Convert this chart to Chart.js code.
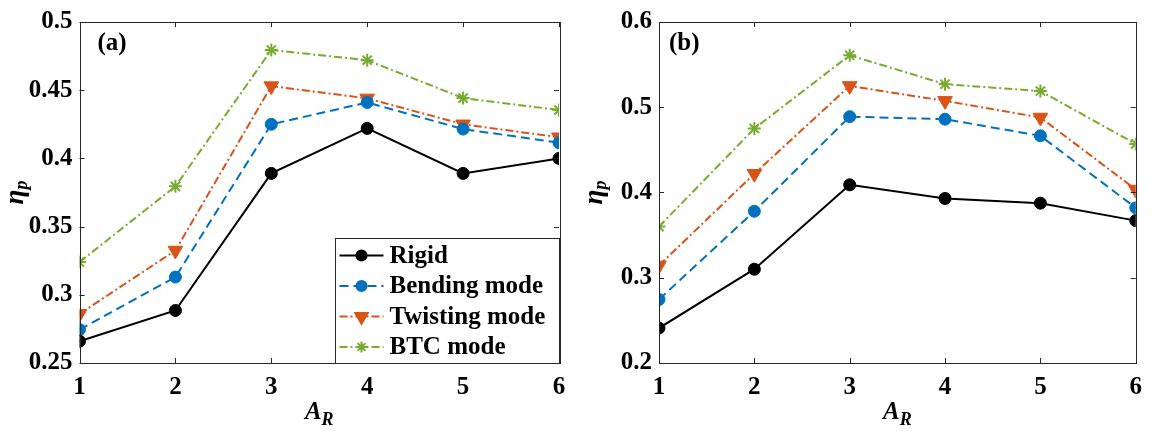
<!DOCTYPE html>
<html>
<head>
<meta charset="utf-8">
<script src="https://cdn.jsdelivr.net/npm/chart.js@4.4.1/dist/chart.umd.min.js"></script>
<style>
  html, body { margin: 0; padding: 0; background: #fff; }
  #wrap { width: 1152px; height: 431px; display: flex; }
  .cell { width: 576px; height: 431px; position: relative; }
</style>
</head>
<body>
<div id="wrap">
  <div class="cell"><canvas id="chartA"></canvas></div>
  <div class="cell"><canvas id="chartB"></canvas></div>
</div>
<script>
'use strict';

// aspect ratio on the x axis
let aspectRatios = [1, 2, 3, 4, 5, 6];
let seriesNames = ['Rigid', 'Bending mode', 'Twisting mode', 'BTC mode'];

// panel (a)
let rigidA = [0.266, 0.2885, 0.389, 0.422, 0.389, 0.400];
let bendingA = [0.2745, 0.313, 0.425, 0.441, 0.4215, 0.4115];
let twistingA = [0.286, 0.3325, 0.453, 0.444, 0.425, 0.4155];
let btcA = [0.324, 0.3795, 0.4795, 0.472, 0.4442, 0.4355];
let yTicksA = [0.25, 0.3, 0.35, 0.4, 0.45, 0.5];

// panel (b)
let rigidB = [0.241, 0.310, 0.409, 0.393, 0.3875, 0.367];
let bendingB = [0.2745, 0.378, 0.489, 0.486, 0.4665, 0.382];
let twistingB = [0.3145, 0.422, 0.525, 0.5075, 0.488, 0.4035];
let btcB = [0.360, 0.4750, 0.561, 0.527, 0.519, 0.457];
let yTicksB = [0.2, 0.3, 0.4, 0.5, 0.6];

const FONT = 'Liberation Serif';
const AXIS_COLOR = '#262626';

const styles = [
  { color: '#000000', dash: [], point: 'circle', radius: 6, rotation: 0 },
  { color: '#0072BD', dash: [9, 5], point: 'circle', radius: 6, rotation: 0 },
  { color: '#D95319', dash: [8, 3, 2, 3], point: 'triangle', radius: 8.5, rotation: 180 },
  { color: '#77AC30', dash: [8, 3, 2, 3], point: 'star', radius: 6.5, rotation: 0 }
];

function toPoints(values) {
  return values.map((v, i) => ({ x: aspectRatios[i], y: v }));
}

function fmt(v) {
  return String(parseFloat(v.toFixed(2)));
}

// box around the axes with inward ticks on all four sides
const frameTicks = {
  id: 'frameTicks',
  afterDatasetsDraw(chart) {
    const { ctx, chartArea: a, scales } = chart;
    const len = 5;
    ctx.save();
    ctx.strokeStyle = AXIS_COLOR;
    ctx.lineWidth = 1;
    ctx.beginPath();
    for (const t of scales.x.ticks) {
      const px = Math.round(scales.x.getPixelForValue(t.value)) + 0.5;
      ctx.moveTo(px, a.bottom); ctx.lineTo(px, a.bottom - len);
      ctx.moveTo(px, a.top); ctx.lineTo(px, a.top + len);
    }
    for (const t of scales.y.ticks) {
      const py = Math.round(scales.y.getPixelForValue(t.value)) + 0.5;
      ctx.moveTo(a.left, py); ctx.lineTo(a.left + len, py);
      ctx.moveTo(a.right, py); ctx.lineTo(a.right - len, py);
    }
    ctx.stroke();
    ctx.strokeRect(Math.round(a.left) + 0.5, Math.round(a.top) + 0.5,
      Math.round(a.right - a.left), Math.round(a.bottom - a.top));
    ctx.restore();
  }
};

// axis titles with subscripts and the panel tag
const titles = {
  id: 'titles',
  afterDraw(chart, args, opts) {
    const { ctx, chartArea: a } = chart;
    ctx.save();
    ctx.fillStyle = '#000';
    ctx.textBaseline = 'alphabetic';

    // x title: A_R
    const big = 'italic bold 25px "' + FONT + '"';
    const small = 'italic bold 18px "' + FONT + '"';
    ctx.font = big;
    const wA = ctx.measureText('A').width;
    ctx.font = small;
    const wR = ctx.measureText('R').width;
    let x0 = (a.left + a.right) / 2 - (wA + wR) / 2;
    ctx.font = big;
    ctx.fillText('A', x0, 419);
    ctx.font = small;
    ctx.fillText('R', x0 + wA, 425);

    // y title: eta_p, rotated
    ctx.save();
    ctx.translate(opts.yTitleX, (a.top + a.bottom) / 2);
    ctx.rotate(-Math.PI / 2);
    ctx.font = 'italic bold 27px "' + FONT + '"';
    const wE = ctx.measureText('η').width;
    ctx.font = small;
    const wP = ctx.measureText('p').width;
    const s = -(wE + wP) / 2;
    ctx.font = 'italic bold 27px "' + FONT + '"';
    ctx.fillText('η', s, 4);
    ctx.font = small;
    ctx.fillText('p', s + wE, 8);
    ctx.restore();

    // panel tag
    ctx.font = 'bold 25px "' + FONT + '"';
    ctx.textBaseline = 'middle';
    ctx.fillText(opts.tag, a.left + opts.tagOffset, a.top + 22);
    ctx.restore();
  }
};

// legend in the lower right corner of the axes
const boxLegend = {
  id: 'boxLegend',
  afterDraw(chart, args, opts) {
    if (!opts.show) return;
    const { ctx, chartArea: a } = chart;
    const w = 224, h = 125;
    const left = Math.round(a.right - w) + 0.5;
    const top = Math.round(a.bottom - h) + 0.5;
    ctx.save();
    ctx.fillStyle = '#fff';
    ctx.fillRect(left, top, w, h);
    ctx.strokeStyle = AXIS_COLOR;
    ctx.lineWidth = 1;
    ctx.strokeRect(left, top, w, h);
    ctx.font = 'bold 25px "' + FONT + '"';
    ctx.textBaseline = 'middle';
    chart.data.datasets.forEach((ds, i) => {
      const st = styles[i];
      const y = top + 17 + i * 30.5;
      ctx.strokeStyle = st.color;
      ctx.lineWidth = 2;
      ctx.setLineDash(st.dash);
      ctx.beginPath();
      ctx.moveTo(left + 4, y);
      ctx.lineTo(left + 48, y);
      ctx.stroke();
      ctx.setLineDash([]);
      ctx.fillStyle = st.color;
      Chart.helpers.drawPoint(ctx, {
        pointStyle: st.point,
        radius: st.radius * 0.85,
        rotation: st.rotation,
        borderWidth: st.point === 'star' ? 1.5 : 1
      }, left + 26, y);
      if (st.point !== 'star') ctx.fill();
      ctx.fillStyle = '#000';
      ctx.fillText(ds.label, left + 54, y + 1);
    });
    ctx.restore();
  }
};

function makeChart(id, series, yTicks, yStep, opts) {
  const ctx = document.getElementById(id).getContext('2d');
  return new Chart(ctx, {
    type: 'line',
    data: {
      datasets: series.map((vals, i) => ({
        label: seriesNames[i],
        data: toPoints(vals),
        borderColor: styles[i].color,
        backgroundColor: styles[i].color,
        borderWidth: 2,
        borderDash: styles[i].dash,
        pointStyle: styles[i].point,
        pointRadius: styles[i].radius,
        pointRotation: styles[i].rotation,
        pointBorderWidth: styles[i].point === 'star' ? 2 : 1,
        pointBackgroundColor: styles[i].color,
        pointBorderColor: styles[i].color,
        tension: 0,
        fill: false
      }))
    },
    options: {
      responsive: false,
      animation: false,
      layout: { padding: { top: 21, right: opts.padRight, left: 0, bottom: 0 } },
      plugins: {
        legend: { display: false },
        tooltip: { enabled: false },
        titles: { tag: opts.tag, tagOffset: opts.tagOffset, yTitleX: opts.yTitleX },
        boxLegend: { show: opts.legend }
      },
      scales: {
        x: {
          type: 'linear',
          min: aspectRatios[0],
          max: aspectRatios[aspectRatios.length - 1],
          offset: false,
          grid: { display: false, drawTicks: false },
          border: { display: false },
          ticks: {
            stepSize: 1,
            padding: 10,
            color: '#000',
            font: { family: FONT, size: 25, weight: 'bold' }
          },
          afterFit(scale) { scale.height = 68; }
        },
        y: {
          min: yTicks[0],
          max: yTicks[yTicks.length - 1],
          grid: { display: false, drawTicks: false },
          border: { display: false },
          ticks: {
            stepSize: yStep,
            padding: 7,
            color: '#000',
            font: { family: FONT, size: 25, weight: 'bold' },
            callback: (v) => fmt(v)
          },
          afterFit(scale) { scale.width = opts.axisWidth; }
        }
      }
    },
    plugins: [frameTicks, titles, boxLegend]
  });
}

for (const id of ['chartA', 'chartB']) {
  const c = document.getElementById(id);
  c.width = 576;
  c.height = 431;
}

makeChart('chartA', [rigidA, bendingA, twistingA, btcA], yTicksA, 0.05,
  { tag: '(a)', tagOffset: 18, legend: true, padRight: 17, axisWidth: 79.5, yTitleX: 19 });
makeChart('chartB', [rigidB, bendingB, twistingB, btcB], yTicksB, 0.1,
  { tag: '(b)', tagOffset: 10, legend: false, padRight: 10, axisWidth: 83, yTitleX: 22 });
</script>
</body>
</html>
